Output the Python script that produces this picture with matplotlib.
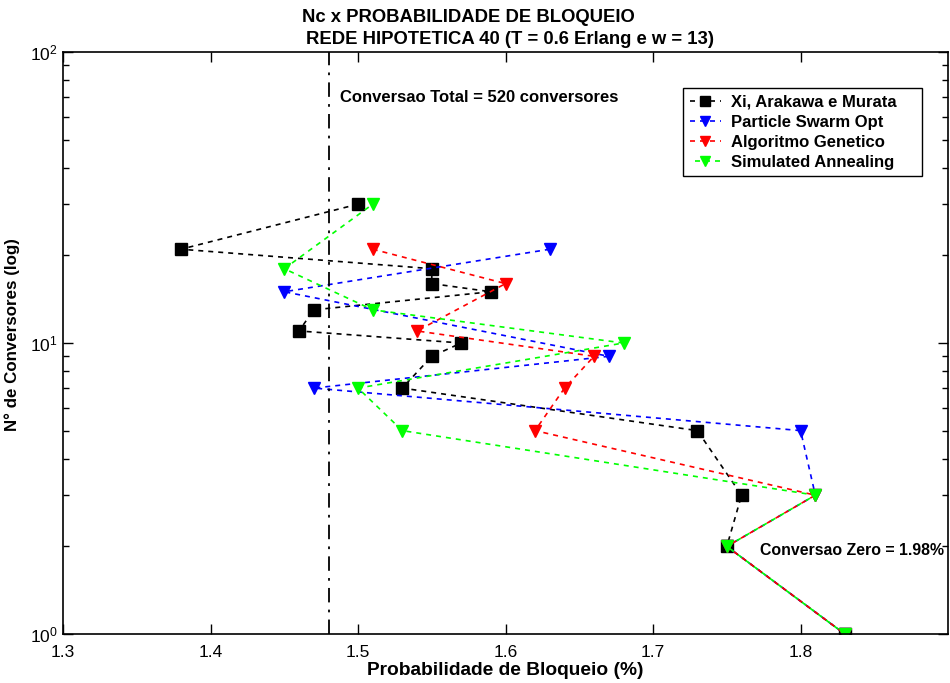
import matplotlib
matplotlib.use("Agg")
import matplotlib.pyplot as plt
from matplotlib.ticker import LogLocator, NullFormatter, FixedLocator

plt.rcParams['font.family'] = ['Liberation Sans', 'DejaVu Sans']

# Blocking probability (%) vs number of converters for each method
xi_prob = [1.50, 1.38, 1.55, 1.55, 1.59, 1.47, 1.46, 1.57, 1.55, 1.53, 1.73, 1.76, 1.75, 1.83]
xi_conv = [30, 21, 18, 16, 15, 13, 11, 10, 9, 7, 5, 3, 2, 1]

pso_prob = [1.63, 1.45, 1.67, 1.47, 1.80, 1.81, 1.75, 1.83]
pso_conv = [21, 15, 9, 7, 5, 3, 2, 1]

ag_prob = [1.51, 1.60, 1.54, 1.66, 1.64, 1.62, 1.81, 1.75, 1.83]
ag_conv = [21, 16, 11, 9, 7, 5, 3, 2, 1]

sa_prob = [1.51, 1.45, 1.51, 1.68, 1.50, 1.53, 1.81, 1.75, 1.83]
sa_conv = [30, 18, 13, 10, 7, 5, 3, 2, 1]

full_conversion_prob = 1.48
series_labels = ["Xi, Arakawa e Murata", "Particle Swarm Opt",
                 "Algoritmo Genetico", "Simulated Annealing"]
x_ticks = [1.3, 1.4, 1.5, 1.6, 1.7, 1.8]

fig = plt.figure(figsize=(9.5, 6.83), dpi=100)
ax = fig.add_axes([0.0663, 0.0717, 0.9317, 0.8522])

handles = []
handles += ax.plot(xi_prob, xi_conv, color='black', ls=(0, (3, 3)), lw=1.2,
                   marker='s', ms=8, mfc='black', mec='black')
handles += ax.plot(pso_prob, pso_conv, color='blue', ls=(0, (3, 3)), lw=1.2,
                   marker='v', ms=8, mfc='blue', mec='blue')
handles += ax.plot(ag_prob, ag_conv, color='red', ls=(0, (3, 3)), lw=1.2,
                   marker='v', ms=8, mfc='red', mec='red')
handles += ax.plot(sa_prob, sa_conv, color='#00ff00', ls=(3, (3, 3)), lw=1.2,
                   marker='v', ms=8, mfc='#00ff00', mec='#00ff00')

ax.axvline(full_conversion_prob, color='black', ls=(0, (8, 4, 1.5, 4)), lw=1.3)

ax.set_yscale('log')
ax.set_xlim(1.3, 1.9)
ax.set_ylim(1, 100)
ax.xaxis.set_major_locator(FixedLocator(x_ticks))
ax.set_xticklabels([f"{v:.1f}" for v in x_ticks])
ax.yaxis.set_major_locator(LogLocator(base=10, numticks=5))
ax.yaxis.set_minor_locator(LogLocator(base=10, subs=range(2, 10), numticks=20))
ax.yaxis.set_minor_formatter(NullFormatter())

ax.tick_params(which='both', direction='in', top=True, right=True,
               labelsize=12.5, colors='black')
ax.tick_params(which='major', length=7, width=1)
ax.tick_params(which='minor', length=4, width=1)
ax.tick_params(axis='x', pad=8)
ax.tick_params(axis='y', pad=4)
for s in ax.spines.values():
    s.set_linewidth(1.2)

ax.set_xlabel("Probabilidade de Bloqueio (%)", fontsize=13.8, fontweight='bold', labelpad=1)
ax.set_ylabel("N° de Conversores (log)", fontsize=12.2, fontweight='bold')
ax.yaxis.set_label_coords(-0.048, 0.515)

fig.text(0.4926, 0.975, "Nc x PROBABILIDADE DE BLOQUEIO", ha='center', va='center',
         fontsize=13.3, fontweight='bold')
fig.text(0.537, 0.942, "REDE HIPOTETICA 40 (T = 0.6 Erlang e w = 13)", ha='center',
         va='center', fontsize=13.3, fontweight='bold')

ax.text(1.488, 70, "Conversao Total = 520 conversores", fontsize=12,
        fontweight='bold', va='center', ha='left')
ax.text(1.7725, 1.93, "Conversao Zero = 1.98%", fontsize=11.4,
        fontweight='bold', va='center', ha='left')

leg = ax.legend(handles, [lab + "    " for lab in series_labels],
                loc='upper right', bbox_to_anchor=(0.9706, 0.938),
                prop={'weight': 'bold', 'size': 12}, fancybox=False,
                edgecolor='black', framealpha=1, handlelength=1.9,
                borderpad=0.4, labelspacing=0.3, handletextpad=0.6,
                borderaxespad=0.0, markerscale=0.85)
leg.get_frame().set_linewidth(1.0)

fig.savefig("out.png", dpi=100)
